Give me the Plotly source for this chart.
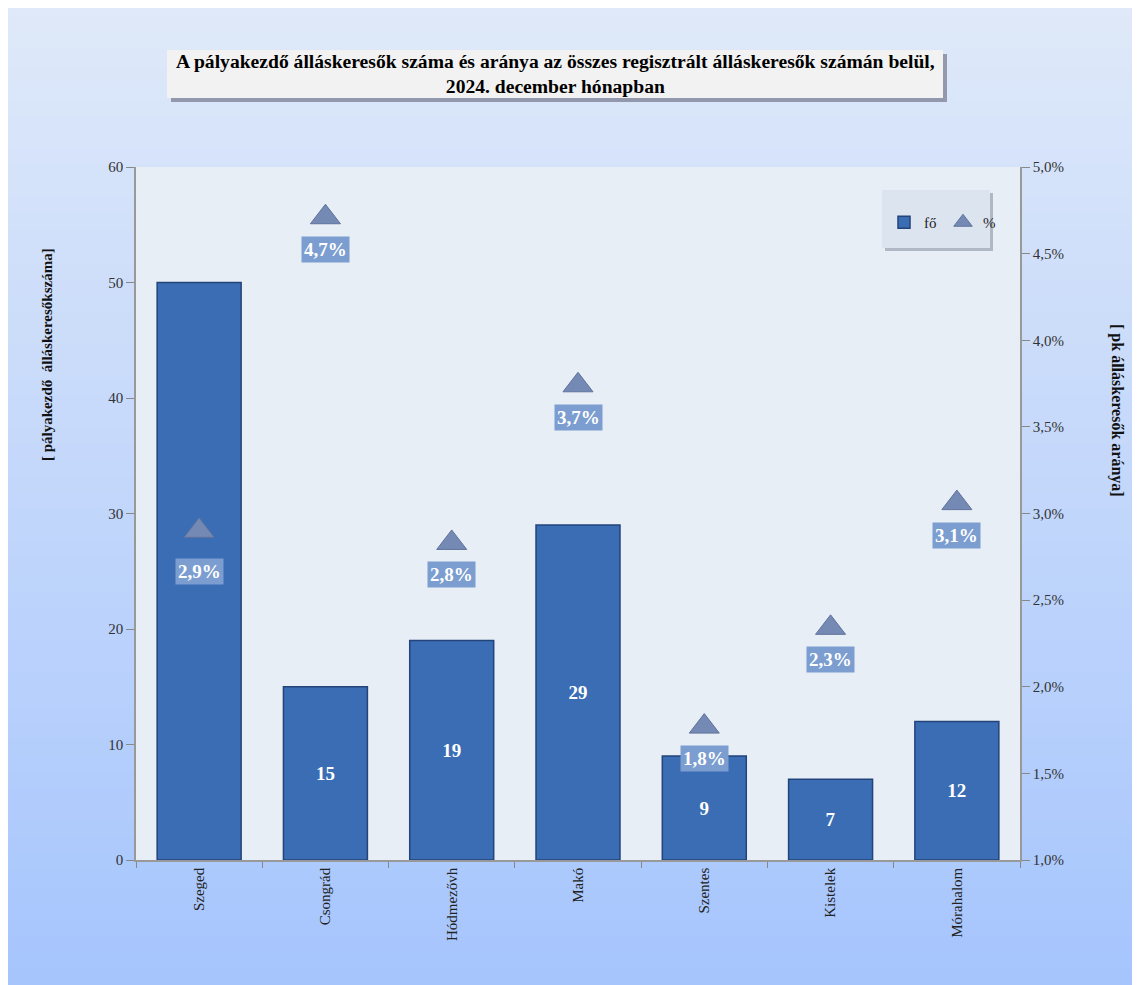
import plotly.graph_objects as go

categories = ["Szeged", "Csongrád", "Hódmezővh", "Makó", "Szentes", "Kistelek", "Mórahalom"]
fo_values = [50, 15, 19, 29, 9, 7, 12]
pct_values = [2.9, 4.71, 2.83, 3.74, 1.77, 2.34, 3.06]
pct_labels = ["2,9%", "4,7%", "2,8%", "3,7%", "1,8%", "2,3%", "3,1%"]

W, H = 1132, 977
ML, MR, MT, MB = 128, 120, 159, 125
PW, PH = W - ML - MR, H - MT - MB
OFF = 8

def px(xa):
    return (xa - OFF - ML) / PW

def py(ya):
    return (H - MB - (ya - OFF)) / PH

# the Szeged bar's value label is hidden behind the percentage label in the reference
bar_text = ["" if i == 0 else "<b>%d</b>" % v for i, v in enumerate(fo_values)]

fig = go.Figure()

fig.add_trace(go.Bar(
    x=categories, y=fo_values, name="fő",
    marker=dict(color="#3a6db4", line=dict(color="#22447a", width=1.5)),
    text=bar_text, textposition="inside", insidetextanchor="middle",
    textfont=dict(family="Liberation Serif", size=19, color="white"),
    constraintext="none", width=0.665,
))
fig.add_trace(go.Scatter(
    x=categories, y=pct_values, name="%", yaxis="y2", mode="markers",
    marker=dict(symbol="triangle-up", size=26, color="#7489b4", line=dict(color="#5f739c", width=1)),
))

shapes = []
n = 60
top = (0xdf, 0xe9, 0xf9)
bot = (0xa6, 0xc5, 0xfd)
for i in range(n):
    t = (i + 0.5) / n
    c = tuple(int(round(top[k] + (bot[k] - top[k]) * t)) for k in range(3))
    ya = 985 * i / n
    yb = 985 * (i + 1) / n + 1
    shapes.append(dict(type="rect", xref="paper", yref="paper", x0=px(0), x1=px(1150),
                       y0=py(ya), y1=py(yb), fillcolor="rgb(%d,%d,%d)" % c, line=dict(width=0), layer="below"))
shapes.append(dict(type="rect", xref="paper", yref="paper", x0=0, x1=1, y0=0, y1=1,
                   fillcolor="#e8eef6", line=dict(width=0), layer="below"))
# title box shadow and box
shapes.append(dict(type="rect", xref="paper", yref="paper", x0=px(171), x1=px(947), y0=py(54), y1=py(102),
                   fillcolor="rgba(90,90,110,0.55)", line=dict(width=0), layer="above"))
shapes.append(dict(type="rect", xref="paper", yref="paper", x0=px(167), x1=px(943), y0=py(50), y1=py(98),
                   fillcolor="#f2f2f2", line=dict(width=0), layer="above"))
# legend box shadow and box
shapes.append(dict(type="rect", xref="paper", yref="paper", x0=px(885), x1=px(993), y0=py(193), y1=py(251),
                   fillcolor="rgba(120,130,150,0.5)", line=dict(width=0), layer="below"))
shapes.append(dict(type="rect", xref="paper", yref="paper", x0=px(882), x1=px(990), y0=py(190), y1=py(248),
                   fillcolor="#dce4ef", line=dict(width=0), layer="below"))

annotations = [
    dict(text="<b>A pályakezdő álláskeresők száma és aránya az összes regisztrált álláskeresők számán belül,<br>2024. december hónapban</b>",
         xref="paper", yref="paper", x=px(555), y=py(74), showarrow=False,
         font=dict(family="Liberation Serif", size=19.6, color="black"), xanchor="center", yanchor="middle"),
    dict(text="<b>[ pályakezdő  álláskeresőkszáma]</b>", xref="paper", yref="paper", x=px(47), y=py(355),
         textangle=-90, showarrow=False, font=dict(family="Liberation Serif", size=15, color="#111"),
         xanchor="center", yanchor="middle"),
    dict(text="<b>[ pk álláskeresők aránya]</b>", xref="paper", yref="paper", x=px(1117), y=py(410),
         textangle=90, showarrow=False, font=dict(family="Liberation Serif", size=16, color="#111"),
         xanchor="center", yanchor="middle"),
]
for i, (c, v, lab) in enumerate(zip(categories, pct_values, pct_labels)):
    annotations.append(dict(x=c, y=v, xref="x", yref="y2", text="<b>" + lab + "</b>", showarrow=False,
                            yshift=-41 if i == 0 else -32, bgcolor="#7b9dcf", borderpad=2,
                            font=dict(family="Liberation Serif", size=19, color="white")))

fig.update_layout(
    width=W, height=H,
    margin=dict(l=ML, r=MR, t=MT, b=MB, autoexpand=False),
    paper_bgcolor="#c4d8fa", plot_bgcolor="rgba(0,0,0,0)",
    separators=",.",
    font=dict(family="Liberation Serif", color="#222"),
    shapes=shapes, annotations=annotations,
    showlegend=True,
    legend=dict(orientation="h", x=px(884), y=py(206), xanchor="left", yanchor="top",
                bgcolor="rgba(0,0,0,0)", font=dict(family="Liberation Serif", size=15, color="#222"),
                itemwidth=30, entrywidth=14, entrywidthmode="pixels", tracegroupgap=0),
    xaxis=dict(tickangle=-90, tickson="boundaries", ticks="outside", ticklen=6, tickcolor="#888",
               showline=True, linecolor="#999", linewidth=1.5, showgrid=False,
               tickfont=dict(family="Liberation Serif", size=15, color="#222")),
    yaxis=dict(range=[0, 60], dtick=10, ticks="outside", ticklen=8, tickcolor="#888",
               showline=True, linecolor="#999", linewidth=1.5, showgrid=False, zeroline=False,
               tickfont=dict(family="Liberation Serif", size=15, color="#333")),
    yaxis2=dict(range=[1.0, 5.0], dtick=0.5, overlaying="y", side="right", tickformat=".1f",
                ticksuffix="%", ticks="outside", ticklen=8, tickcolor="#888",
                showline=True, linecolor="#999", linewidth=1.5, showgrid=False, zeroline=False,
                tickfont=dict(family="Liberation Serif", size=15, color="#333")),
)

fig.write_html("out.html")
